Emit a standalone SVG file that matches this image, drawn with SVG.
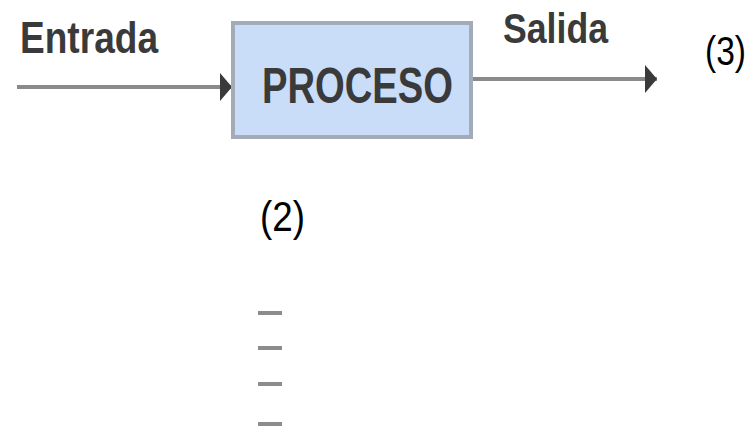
<svg xmlns="http://www.w3.org/2000/svg" width="753" height="433" viewBox="0 0 753 433">
  <defs>
    <marker id="head" viewBox="0 0 12 36" refX="12" refY="18" markerWidth="12" markerHeight="36" markerUnits="userSpaceOnUse" orient="auto">
      <path d="M0,4 L12,18 L0,32 Z" fill="#3a3a3a"/>
    </marker>
  </defs>
  <style>
    .lbl { font-family: "Liberation Sans", Arial, sans-serif; font-weight: bold; fill: #3a3a3a; }
    .num { font-family: "Liberation Sans", Arial, sans-serif; fill: #000; }
    .wire { stroke: #8a8a8a; stroke-width: 4; fill: none; }
    .dash { stroke: #8c8c8c; stroke-width: 4; }
  </style>
  <rect width="753" height="433" fill="#fff"/>

  <g id="connectors">
    <line class="wire" x1="17" y1="87" x2="232" y2="87" marker-end="url(#head)"/>
    <line class="wire" x1="472" y1="79" x2="657" y2="79" marker-end="url(#head)"/>
  </g>

  <g id="proceso">
    <rect x="233" y="23" width="238" height="114" fill="#c9dcf8" stroke="#a3abb8" stroke-width="4"/>
    <text class="lbl" x="262" y="103" font-size="50" textLength="191" lengthAdjust="spacingAndGlyphs">PROCESO</text>
  </g>

  <g id="labels">
    <text class="lbl" x="20" y="53" font-size="45" textLength="138" lengthAdjust="spacingAndGlyphs">Entrada</text>
    <text class="lbl" x="503" y="43" font-size="42" textLength="105" lengthAdjust="spacingAndGlyphs">Salida</text>
    <text class="num" x="705" y="65" font-size="40" textLength="41" lengthAdjust="spacingAndGlyphs">(3)</text>
    <text class="num" x="260" y="231" font-size="42" textLength="45" lengthAdjust="spacingAndGlyphs">(2)</text>
  </g>

  <g id="dashes">
    <line class="dash" x1="258" y1="313" x2="282" y2="313"/>
    <line class="dash" x1="258" y1="348" x2="282" y2="348"/>
    <line class="dash" x1="258" y1="384" x2="282" y2="384"/>
    <line class="dash" x1="258" y1="424" x2="282" y2="424"/>
  </g>
</svg>
